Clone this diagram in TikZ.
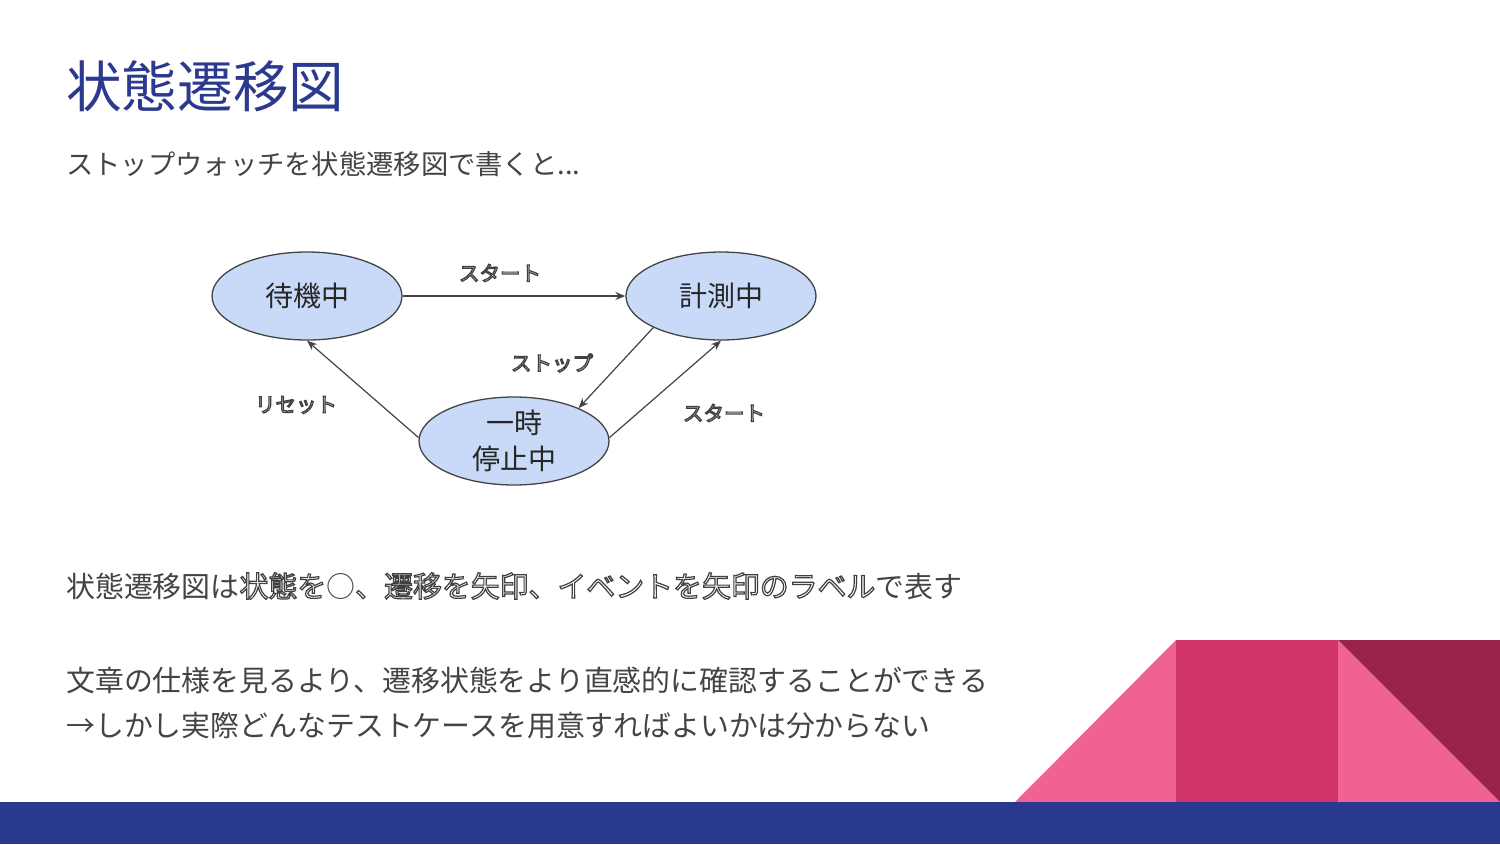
\documentclass[tikz,border=0pt]{standalone}
\usepackage{fontspec}
\setmainfont{Noto Sans CJK JP}
\usetikzlibrary{shapes.geometric,arrows.meta}
\definecolor{titleblue}{HTML}{2B3A8F}
\definecolor{bandblue}{HTML}{29398F}
\definecolor{txtgray}{HTML}{444444}
\definecolor{nodefill}{HTML}{C9DAF8}
\definecolor{pinkA}{HTML}{F06292}
\definecolor{pinkB}{HTML}{D1346B}
\definecolor{maroon}{HTML}{9B224D}
\newcommand\outl[1]{\special{pdf:literal direct 1 Tr 1.2 w 0.25 0.25 0.25 RG}#1\special{pdf:literal direct 0 Tr}}
\tikzset{
  state/.style={ellipse,draw=txtgray,line width=1.3pt,fill=nodefill,minimum width=190pt,minimum height=88pt,inner sep=0pt,align=center,font=\fontsize{28}{36}\selectfont,text=black!85},
  trans/.style={draw=txtgray,line width=1.2pt,-{Stealth[length=10pt,width=8pt]}},
  evlabel/.style={font=\fontsize{20.5}{24}\selectfont,inner sep=0pt},
  bodytext/.style={anchor=west,inner sep=0pt,text=txtgray,font=\fontsize{28.9}{34}\selectfont}
}
\begin{document}
\begin{tikzpicture}[x=1pt,y=-1pt]
\useasboundingbox (0,0) rectangle (1500,844);
\fill[white] (0,0) rectangle (1500,844);
% decoration
\fill[pinkA] (1015,802) -- (1176,640) -- (1176,802) -- cycle;
\fill[pinkB] (1176,640) rectangle (1338,802);
\fill[pinkA] (1338,640) -- (1500,802) -- (1338,802) -- cycle;
\fill[maroon] (1338,640) -- (1500,640) -- (1500,802) -- cycle;
\fill[bandblue] (0,802) rectangle (1500,844);
% title and texts
\node[anchor=west,inner sep=0pt,text=titleblue,font=\fontsize{55.6}{60}\selectfont] (title) at (66,86) {状態遷移図};
\node[anchor=west,inner sep=0pt,text=txtgray,font=\fontsize{27.3}{30}\selectfont] (sub) at (66,164) {ストップウォッチを状態遷移図で書くと...};
\node[bodytext] (l1) at (66,586) {状態遷移図は\outl{状態を}○\outl{、遷移を矢印、イベントを矢印のラベル}で表す};
\node[bodytext] (l2) at (66,680) {文章の仕様を見るより、遷移状態をより直感的に確認することができる};
\node[bodytext] (l3) at (66,726) {→しかし実際どんなテストケースを用意すればよいかは分からない};
% states
\node[state] (wait) at (307,296) {待機中};
\node[state] (meas) at (721,296) {計測中};
\node[state] (pause) at (514,441) {一時\\停止中};
% transitions
\draw[trans] (wait.east) -- (meas.west);
\draw[trans] (meas.205) -- (pause.27);
\draw[trans] (pause.2) -- (meas.south);
\draw[trans] (pause.178) -- (wait.south);
% labels
\node[evlabel] (ls1) at (500,273) {\outl{スタート}};
\node[evlabel] (ls2) at (552,363) {\outl{ストップ}};
\node[evlabel] (ls3) at (724,413) {\outl{スタート}};
\node[evlabel] (ls4) at (296,405) {\outl{リセット}};
\end{tikzpicture}
\end{document}
